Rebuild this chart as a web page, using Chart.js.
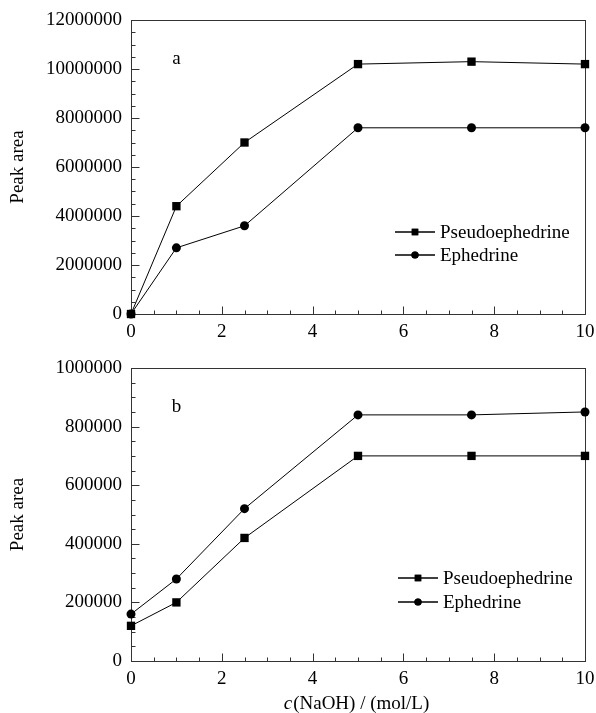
<!DOCTYPE html>
<html><head><meta charset="utf-8">
<script src="https://cdn.jsdelivr.net/npm/chart.js@4/dist/chart.umd.min.js"></script>
<style>
html,body{margin:0;padding:0;background:#fff;}
#wrap{position:relative;width:596px;height:713px;overflow:hidden;}
canvas{position:absolute;left:0;display:block;}
</style></head><body>
<div id="wrap">
<canvas id="chartA" width="596" height="345" style="top:0"></canvas>
<canvas id="chartB" width="596" height="368" style="top:345px"></canvas>
</div>
<script>
// ---- data ----
const naohConc = [0, 1, 2.5, 5, 7.5, 10];
const seriesNames = ['Pseudoephedrine', 'Ephedrine'];
const pseudoA = [0, 4400000, 7000000, 10200000, 10300000, 10200000];
const ephedA  = [0, 2700000, 3600000, 7600000, 7600000, 7600000];
const pseudoB = [120000, 200000, 420000, 700000, 700000, 700000];
const ephedB  = [160000, 280000, 520000, 840000, 840000, 850000];
const xTickLabels = [0, 2, 4, 6, 8, 10];
const yTickLabelsA = [0, 2000000, 4000000, 6000000, 8000000, 10000000, 12000000];
const yTickLabelsB = [0, 200000, 400000, 600000, 800000, 1000000];
const panelLetters = ['a', 'b'];
const yTitle = 'Peak area';
const xTitleItalic = 'c';
const xTitleRest = '(NaOH) / (mol/L)';

const FONT = '"Liberation Serif", "Times New Roman", serif';
Chart.defaults.font.family = FONT;
Chart.defaults.font.size = 19;
Chart.defaults.color = '#000';

function pts(vals){ return naohConc.map((x,i)=>({x:x, y:vals[i]})); }

const framePlugin = {
  id: 'frame',
  beforeDatasetsDraw(chart, args, o) {
    const {ctx, chartArea: a, scales: {x, y}} = chart;
    ctx.save();
    ctx.strokeStyle = '#333';
    ctx.lineWidth = 1;
    const L = Math.round(a.left)+0.5, R = Math.round(a.right)+0.5, T = Math.round(a.top)+0.5, B = Math.round(a.bottom)+0.5;
    ctx.strokeRect(L, T, R-L, B-T);
    ctx.beginPath();
    for (let v = x.min; v <= x.max + 1e-9; v += o.xMinor) {
      const px = Math.round(x.getPixelForValue(v)) + 0.5;
      const major = Math.abs(v/o.xMajor - Math.round(v/o.xMajor)) < 1e-6;
      ctx.moveTo(px, B); ctx.lineTo(px, B - (major ? 8 : 4));
    }
    for (let v = y.min; v <= y.max + 1e-9; v += o.yMinor) {
      const py = Math.round(y.getPixelForValue(v)) + 0.5;
      const major = Math.abs(v/o.yMajor - Math.round(v/o.yMajor)) < 1e-6;
      ctx.moveTo(L, py); ctx.lineTo(L + (major ? 8 : 4), py);
    }
    ctx.stroke();
    ctx.restore();
  },
  afterDatasetsDraw(chart, args, o) {
    const {ctx, chartArea: a, scales: {x, y}} = chart;
    ctx.save();
    ctx.font = '19px ' + FONT;
    ctx.fillStyle = '#000';
    // panel letter
    ctx.textAlign = 'center';
    ctx.textBaseline = 'alphabetic';
    ctx.fillText(o.letter, x.getPixelForValue(o.letterAt[0]), y.getPixelForValue(o.letterAt[1]));
    // legend
    chart.data.datasets.forEach((ds, i) => {
      const ly = o.legendY[i];
      const lx = o.legendX;
      ctx.strokeStyle = '#000';
      ctx.lineWidth = 1.5;
      ctx.beginPath(); ctx.moveTo(lx, ly); ctx.lineTo(lx + 40, ly); ctx.stroke();
      Chart.helpers.drawPoint(ctx, {pointStyle: ds.pointStyle, radius: ds.pointStyle === 'rect' ? 4.6 : 3.6, borderWidth: 0}, lx + 20, ly);
      ctx.fillStyle = '#000';
      ctx.fill();
      ctx.textAlign = 'left';
      ctx.textBaseline = 'middle';
      ctx.fillText(ds.label, lx + 45, ly + 1);
    });
    // x title
    if (o.xTitle) {
      const fN = '19px ' + FONT, fI = 'italic 19px ' + FONT;
      ctx.font = fI; const w1 = ctx.measureText(xTitleItalic).width;
      ctx.font = fN; const w2 = ctx.measureText(xTitleRest).width;
      const cx = (a.left + a.right) / 2 - 2;
      let sx = cx - (w1 + w2) / 2;
      ctx.textAlign = 'left'; ctx.textBaseline = 'alphabetic';
      ctx.font = fI; ctx.fillText(xTitleItalic, sx, o.xTitleY);
      ctx.font = fN; ctx.fillText(xTitleRest, sx + w1 + 1, o.xTitleY);
    }
    ctx.restore();
  }
};

function makeChart(id, pData, eData, yTicks, yMax, frameOpts, padTop, xHeight) {
  return new Chart(document.getElementById(id), {
    type: 'line',
    data: {
      datasets: [
        {label: seriesNames[0], data: pts(pData), borderColor: '#000', backgroundColor: '#000', borderWidth: 1,
         pointStyle: 'rect', pointRadius: 5.9, pointBorderWidth: 0, clip: false, tension: 0},
        {label: seriesNames[1], data: pts(eData), borderColor: '#000', backgroundColor: '#000', borderWidth: 1,
         pointStyle: 'circle', pointRadius: 4.5, pointBorderWidth: 0, clip: false, tension: 0}
      ]
    },
    options: {
      responsive: false, animation: false, devicePixelRatio: 1,
      layout: {padding: {top: padTop, right: 11, left: 0, bottom: 0}},
      plugins: {legend: {display: false}, tooltip: {enabled: false}, frame: frameOpts},
      scales: {
        x: {type: 'linear', min: 0, max: 10,
            grid: {display: false, drawTicks: false}, border: {display: false},
            afterBuildTicks: s => { s.ticks = xTickLabels.map(v => ({value: v})); },
            ticks: {padding: 7, maxRotation: 0, callback: v => String(v)},
            afterFit: s => { s.height = xHeight; s.paddingLeft = 0; s.paddingRight = 0; }},
        y: {type: 'linear', min: 0, max: yMax,
            grid: {display: false, drawTicks: false}, border: {display: false},
            afterBuildTicks: s => { s.ticks = yTicks.map(v => ({value: v})); },
            ticks: {padding: 9, callback: v => String(v)},
            title: {display: true, text: yTitle, padding: {top: 7, bottom: 0}},
            afterFit: s => { s.width = 131; s.paddingTop = 0; s.paddingBottom = 0; }}
      }
    },
    plugins: [framePlugin]
  });
}

makeChart('chartA', pseudoA, ephedA, yTickLabelsA, 12000000,
  {xMinor: 0.5, xMajor: 2, yMinor: 500000, yMajor: 2000000, letter: panelLetters[0], letterAt: [1, 10200000],
   legendX: 395, legendY: [232, 255], xTitle: false}, 20, 31);
makeChart('chartB', pseudoB, ephedB, yTickLabelsB, 1000000,
  {xMinor: 0.5, xMajor: 2, yMinor: 50000, yMajor: 200000, letter: panelLetters[1], letterAt: [1, 850000],
   legendX: 398, legendY: [233, 257], xTitle: true, xTitleY: 364}, 23, 52);
</script>
</body></html>
